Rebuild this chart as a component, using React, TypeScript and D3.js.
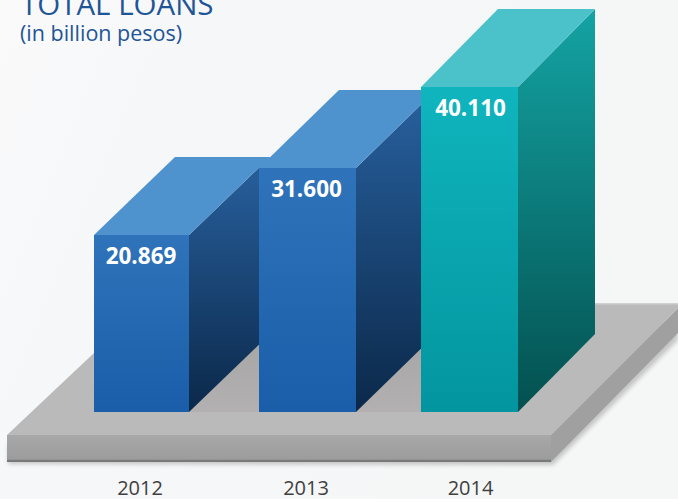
import React from "react";
import * as d3 from "d3";

const years = ["2012", "2013", "2014"];
const loans = [20.869, 31.6, 40.11];
const labels = ["20.869", "31.600", "40.110"];
const blue = { top: "#4e92ce", f0: "#2f74ba", f1: "#1a5da9", s0: "#28619f", s1: "#0b2849" };
const teal = { top: "#4bc1c9", f0: "#10b5bd", f1: "#03959f", s0: "#14a3a3", s1: "#03504f" };
const palettes = [blue, blue, teal];

const W = 678, H = 499;
const baseY = 412;
const depthY = 78;
// the drawing is not proportional to the values: each printed value maps to its drawn height
const y = d3.scaleLinear().domain([0, ...loans]).range([baseY, 235, 168, 87]);
const x = d3.scaleOrdinal<string, number>().domain(years).range([94, 259, 421]);
const barW = [95, 97, 97];
const depthX = [81, 80, 77];
const labelShift = [-0.5, -1, 1];
const tickShift = [-1.5, -1.5, 1];
const line = d3.line();
const path = (p: [number, number][]) => line(p)! + "Z";

export default function App() {
  return (
    <svg width={W} height={H} style={{ position: "absolute", left: 0, top: 0, display: "block" }} fontFamily="'Open Sans', sans-serif">
      <defs>
        <linearGradient id="bg" x1="0" y1="0" x2="1" y2="0.3">
          <stop offset="0" stopColor="#fafafb" />
          <stop offset="0.3" stopColor="#f6f7f8" />
          <stop offset="1" stopColor="#f5f6f6" />
        </linearGradient>
        <linearGradient id="floorFront" x1="0" y1="0" x2="0" y2="1">
          <stop offset="0" stopColor="#a8a8a8" />
          <stop offset="0.9" stopColor="#9c9c9c" />
          <stop offset="0.93" stopColor="#7c7c7c" />
          <stop offset="1" stopColor="#757575" />
        </linearGradient>
        <linearGradient id="gap" x1="0" y1="0" x2="0" y2="1">
          <stop offset="0" stopColor="#a6a5a5" />
          <stop offset="1" stopColor="#b2b0b0" />
        </linearGradient>
        <filter id="sh" x="-5%" y="-5%" width="110%" height="110%">
          <feGaussianBlur stdDeviation="2" />
        </filter>
        {palettes.map((c, i) => (
          <React.Fragment key={i}>
            <linearGradient id={`front${i}`} x1="0" y1="0" x2="0" y2="1">
              <stop offset="0" stopColor={c.f0} />
              <stop offset="1" stopColor={c.f1} />
            </linearGradient>
            <linearGradient id={`side${i}`} x1="0" y1="0" x2="0" y2="1">
              <stop offset="0" stopColor={c.s0} />
              <stop offset="1" stopColor={c.s1} />
            </linearGradient>
          </React.Fragment>
        ))}
      </defs>
      <rect width={W} height={H} fill="url(#bg)" />

      {/* platform */}
      <path d={path([[8, 464], [553, 465], [678, 340], [678, 320], [8, 445]])} fill="#8a8a8a" opacity={0.45} filter="url(#sh)" />
      <path d={path([[551, 435], [551, 462], [678, 333], [678, 308]])} fill="#a0a0a0" />
      <path d={path([[7, 435], [551, 435], [551, 462], [7, 462]])} fill="url(#floorFront)" />
      <path d={path([[7, 435], [94, 353], [94, 304], [678, 304], [678, 308], [551, 435]])} fill="#bbbaba" />
      <rect x={94} y={330} width={328} height={82} fill="url(#gap)" />
      <rect x={94} y={303} width={584} height={1.5} fill="#d0d0d0" />

      {/* bars */}
      {years.map((yr, i) => {
        const x0 = x(yr);
        const x1 = x0 + barW[i];
        const t = y(loans[i]);
        const d = depthX[i];
        const c = palettes[i];
        return (
          <g key={yr}>
            <path d={path([[x1, baseY], [x1, t], [x1 + d, t - depthY], [x1 + d, baseY - depthY]])} fill={`url(#side${i})`} />
            <path d={path([[x0, t], [x0 + d, t - depthY], [x1 + d, t - depthY], [x1, t]])} fill={c.top} />
            <rect x={x0} y={t} width={x1 - x0} height={baseY - t} fill={`url(#front${i})`} />
            <text x={x0 + barW[i] / 2 + labelShift[i]} y={t + 29} fill="#fff" fontSize={22.5} fontWeight={700} textAnchor="middle">{labels[i]}</text>
            <text x={x0 + barW[i] / 2 + tickShift[i]} y={495} fill="#3f3f3f" fontSize={20} textAnchor="middle">{yr}</text>
          </g>
        );
      })}

      {/* titles */}
      <text x={21} y={15} fill="#1f5596" fontSize={29.5}>TOTAL LOANS</text>
      <text x={20} y={41} fill="#1f5596" fontSize={21.5}>(in billion pesos)</text>
    </svg>
  );
}
